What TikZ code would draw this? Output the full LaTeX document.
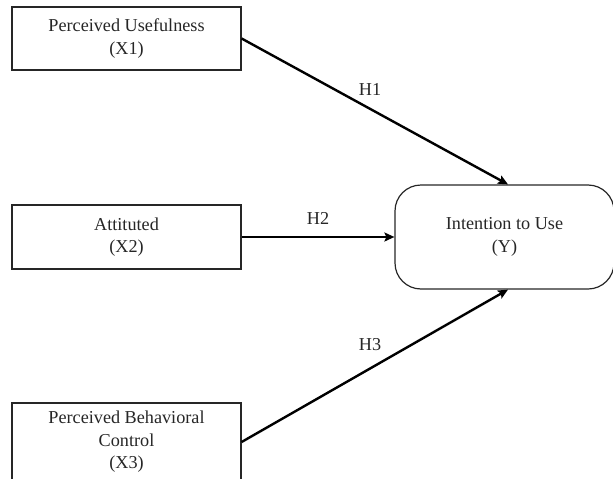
\documentclass[tikz,border=0pt]{standalone}
\usepackage{fontspec}
\setmainfont{Liberation Serif}
\usetikzlibrary{arrows.meta}
\begin{document}
\begin{tikzpicture}[x=1pt,y=-1pt,
  box/.style={draw=black!85,line width=1.2pt,rectangle,minimum width=229pt,inner sep=0pt,align=center,text=black!85,font=\fontsize{18.2}{22.5}\selectfont},
  rbox/.style={draw=black!85,line width=1.2pt,rectangle,rounded corners=26pt,minimum width=219pt,minimum height=104pt,inner sep=0pt,align=center,text=black!85,font=\fontsize{18.2}{23.5}\selectfont},
  lab/.style={text=black!85,font=\fontsize{18.2}{20}\selectfont,inner sep=0pt},
  conn/.style={line width=2.4pt,-{Stealth[length=10pt,width=9pt,inset=2pt]}}]
\useasboundingbox (0,0) rectangle (613,479);
\clip (0,0) rectangle (613,479);
\node[box,minimum height=63pt] (x1) at (126.5,38.5) {Perceived Usefulness\\(X1)};
\node[box,minimum height=64pt] (x2) at (126.5,237) {Attituted\\(X2)};
\node[box,minimum height=78pt] (x3) at (126.5,442) {Perceived Behavioral\\Control\\(X3)};
\node[rbox] (y) at (504.5,237) {Intention to Use\\(Y)};
\coordinate (yt) at ([xshift=3.5pt]y.north);
\coordinate (yb) at ([xshift=3.5pt]y.south);
\draw[conn] (x1.east) -- (yt);
\draw[conn] (x2.east) -- (y.west);
\draw[conn] (x3.east) -- (yb);
\node[lab] (h1) at (370,89) {H1};
\node[lab] (h2) at (318,218) {H2};
\node[lab] (h3) at (370,345) {H3};
\end{tikzpicture}
\end{document}
